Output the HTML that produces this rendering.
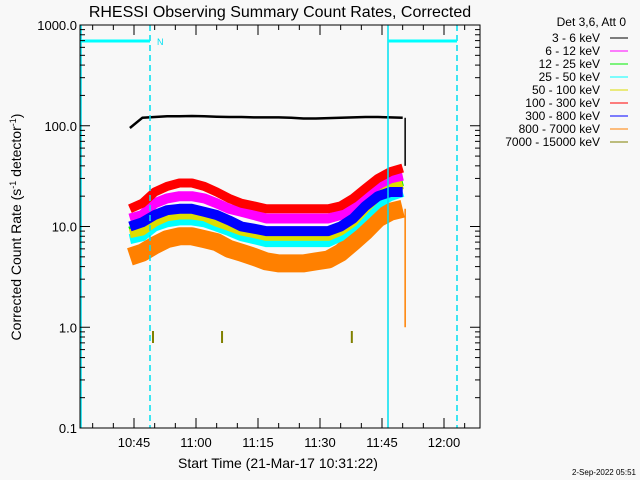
<!DOCTYPE html>
<html><head><meta charset="utf-8"><style>
body{margin:0;background:#f8f8f8;}
svg{display:block;font-family:"Liberation Sans",sans-serif;}
</style></head><body>
<svg id="c" width="640" height="480" viewBox="0 0 640 480">
<rect width="640" height="480" fill="#f8f8f8"/>
<text x="280" y="17" font-size="16" text-anchor="middle" fill="#000">RHESSI Observing Summary Count Rates, Corrected</text>
<text x="278" y="468" font-size="14" text-anchor="middle">Start Time (21-Mar-17 10:31:22)</text>
<text transform="translate(21,227) rotate(-90)" font-size="14" text-anchor="middle">Corrected Count Rate (s<tspan font-size="9" dy="-5">-1</tspan><tspan dy="5"> detector</tspan><tspan font-size="9" dy="-5">-1</tspan><tspan dy="5">)</tspan></text>
<text x="636" y="475" font-size="8" text-anchor="end">2-Sep-2022 05:51</text>
<g id="plot"></g>
<g id="axes"></g>
<g id="legend"></g>
</svg>
<script>
const times=[14,17,20,23,26,29,32,35,38,41,44,47,50,53,56,59,62,65,68,71,74,77,80];
const black=[95,120,122,124,124,125,124,123,122,122,121,121,121,120,118,118,119,120,121,122,122,121,120];
const magenta=[12,13,17,19,20,20,19,17,15,14,13,12,12,12,12,12,12,13,15,20,26,30,32];
const green=[9,10,13,14,15,15,14,12,11,10,9,8.5,8.5,8.5,8.5,8.5,9,10,12,16,22,26,28];
const cyan=[7.5,8,10,11,11.5,11.5,11,10,9,8,7.5,7,7,7,7,7,7,8,10,13,17,20,22];
const yellow=[8.5,9,11,12.5,13,13,12.5,11,10,9,8.5,8,8,8,8,8,8,9,11,15,20,24,26];
const red=[15,17,22,25,27,27,25,22,19,17,16,15,15,15,15,15,15,16,19,24,30,35,38];
const blue=[10,11,13,14.5,15,15,14,13,11.5,10,9.5,9,9,9,9,9,9,10,12,16,20,22,22];
const orange=[5,5.5,6.5,7.5,8,8,7.5,7,6,5.5,5,4.5,4.3,4.3,4.3,4.5,4.7,5.5,7,9,12,14,15];
const spikeTimes=[19.6,36.3,67.7];
const spikeVals=[0.8,0.8,0.8];
const yTicks=[0.1,1,10,100,1000];
const yTickLabels=["0.1","1.0","10.0","100.0","1000.0"];
const xTicks=[15,30,45,60,75,90];
const xTickLabels=["10:45","11:00","11:15","11:30","11:45","12:00"];
const legendLabels=["3 - 6 keV","6 - 12 keV","12 - 25 keV","25 - 50 keV","50 - 100 keV","100 - 300 keV","300 - 800 keV","800 - 7000 keV","7000 - 15000 keV"];
const legendColors=["#000","#ff00ff","#00ee00","#00ffff","#dddd00","#ff0000","#0000ff","#ff8000","#808000"];

const NS="http://www.w3.org/2000/svg";
const X0=80,X1=480,Y0=25,Y1=428;
function xs(t){return 134+(t-15)*62/15;}
function ys(v){return Y1-(Math.log10(v)+1)*(Y1-Y0)/4;}
function mk(tag,attrs,parent){const e=document.createElementNS(NS,tag);for(const k in attrs)e.setAttribute(k,attrs[k]);parent.appendChild(e);return e;}
const plot=document.getElementById('plot'),axes=document.getElementById('axes'),leg=document.getElementById('legend');

function series(arr,color,w,name){
  const d=arr.map((v,i)=>(i?'L':'M')+xs(times[i]).toFixed(1)+','+ys(v).toFixed(1)).join('');
  const p=mk('path',{d:d,fill:'none',stroke:color,'stroke-width':w,'stroke-linejoin':'round'},plot);
  
  
}
series(black,'#000',2.5,'series-3-6-kev');
series(orange,'#ff8000',18,'series-800-7000-kev');
series(cyan,'#00ffff',10,'series-25-50-kev');
series(green,'#00ee00',9,'series-12-25-kev');
series(yellow,'#dddd00',9,'series-50-100-kev');
series(magenta,'#ff00ff',10,'series-6-12-kev');
series(red,'#ff0000',9,'series-100-300-kev');
series(blue,'#0000ff',10,'series-300-800-kev');
const dropO=mk('line',{x1:xs(80.6),x2:xs(80.6),y1:ys(15),y2:ys(1),stroke:'#ff8000','stroke-width':1.5},plot);


const dropK=mk('line',{x1:xs(80.6),x2:xs(80.6),y1:ys(120),y2:ys(40),stroke:'#000','stroke-width':1.5},plot);


spikeTimes.forEach((t,i)=>{
  const s=mk('line',{x1:xs(t),x2:xs(t),y1:ys(spikeVals[i])-6,y2:ys(spikeVals[i])+6,stroke:'#808000','stroke-width':2},plot);
  
  
});
[[81,false],[388,false],[150,true],[457,true]].forEach(([x,dash])=>{
  const l=mk('line',{x1:x,x2:x,y1:Y0,y2:Y1,stroke:'#00e0f0','stroke-width':1.5},plot);
  if(dash)l.setAttribute('stroke-dasharray','6,4');
  
  
});
[[81,150],[388,457]].forEach(([a,b])=>{
  const l=mk('line',{x1:a,x2:b,y1:41,y2:41,stroke:'#00ffff','stroke-width':3},plot);
  
  
});
const nt=mk('text',{x:157,y:45,'font-size':9,fill:'#00e0f0'},plot);nt.textContent='N';



const fr=mk('rect',{x:X0,y:Y0,width:X1-X0,height:Y1-Y0,fill:'none',stroke:'#000','stroke-width':1},axes);


yTicks.forEach((v,i)=>{
  const y=ys(v);
  mk('line',{x1:X0,x2:X0+10,y1:y,y2:y,stroke:'#000'},axes);
  mk('line',{x1:X1-10,x2:X1,y1:y,y2:y,stroke:'#000'},axes);
  const t=mk('text',{x:X0-3,y:y+5,'font-size':13,'text-anchor':'end'},axes);t.textContent=yTickLabels[i];
  
  
  if(i<yTicks.length-1)for(let m=2;m<10;m++){const yy=ys(v*m);
    mk('line',{x1:X0,x2:X0+5,y1:yy,y2:yy,stroke:'#000'},axes);
    mk('line',{x1:X1-5,x2:X1,y1:yy,y2:yy,stroke:'#000'},axes);}
});
for(let t=5;t<=95;t+=5){const x=xs(t);if(x<X0||x>X1)continue;
  mk('line',{x1:x,x2:x,y1:Y1,y2:Y1-5,stroke:'#000'},axes);
  mk('line',{x1:x,x2:x,y1:Y0,y2:Y0+5,stroke:'#000'},axes);}
xTicks.forEach((t,i)=>{const x=xs(t);
  mk('line',{x1:x,x2:x,y1:Y1,y2:Y1-10,stroke:'#000'},axes);
  mk('line',{x1:x,x2:x,y1:Y0,y2:Y0+10,stroke:'#000'},axes);
  const tx=mk('text',{x:x,y:Y1+19,'font-size':13,'text-anchor':'middle'},axes);tx.textContent=xTickLabels[i];
  
  
});
const lh=mk('text',{x:626,y:26,'font-size':12,'text-anchor':'end'},leg);lh.textContent='Det 3,6, Att 0';


legendLabels.forEach((lab,i)=>{
  const y=38+i*13;
  const t=mk('text',{x:600,y:y+4,'font-size':12,'text-anchor':'end'},leg);t.textContent=lab;
  
  
  const l=mk('line',{x1:610,x2:628,y1:y,y2:y,stroke:legendColors[i],'stroke-width':1},leg);
  
  
});
</script>
</body></html>
